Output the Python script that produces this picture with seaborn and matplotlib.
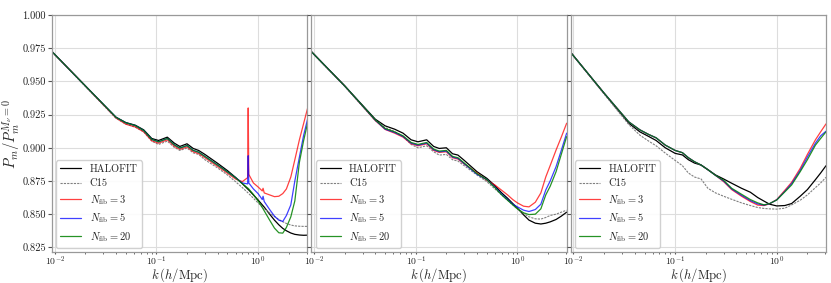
import numpy as np
import pandas as pd
import matplotlib
matplotlib.use("Agg")
import matplotlib.pyplot as plt
import seaborn as sns

# ---- data (k in h/Mpc, ratio P_m / P_m^{M_nu=0}) ----
k1 = [0.0094, 0.02, 0.04, 0.05, 0.062, 0.075, 0.09, 0.105, 0.128, 0.15, 0.17, 0.2, 0.23, 0.26,
      0.3, 0.4, 0.5, 0.6, 0.7, 0.79, 0.80, 0.81, 0.9, 1.0, 1.1, 1.12, 1.15, 1.3, 1.45, 1.6, 1.75,
      1.9, 2.1, 2.3, 2.55, 2.8, 3.1]
halofit1 = [0.9724, 0.9466, 0.923, 0.919, 0.917, 0.9135, 0.907, 0.9055, 0.908, 0.9035, 0.901, 0.903,
            0.8995, 0.898, 0.895, 0.8883, 0.8828, 0.8777, 0.873, 0.869, 0.8686, 0.8682, 0.8645,
            0.8607, 0.857, 0.8563, 0.8553, 0.850, 0.8455, 0.842, 0.8393, 0.8375, 0.8358, 0.8348,
            0.8343, 0.8341, 0.8342]
c15_1 = [0.9722, 0.9462, 0.9222, 0.9178, 0.9155, 0.912, 0.905, 0.9025, 0.905, 0.9003, 0.898, 0.8998,
         0.8962, 0.895, 0.891, 0.8848, 0.8795, 0.8745, 0.870, 0.8663, 0.8659, 0.8655, 0.862, 0.8585,
         0.8555, 0.855, 0.8542, 0.851, 0.8482, 0.846, 0.8443, 0.843, 0.8418, 0.8412, 0.8409, 0.8408,
         0.8408]
n3_1 = [0.9724, 0.9466, 0.9225, 0.9178, 0.9157, 0.912, 0.9053, 0.9035, 0.906, 0.9012, 0.8988, 0.9007,
        0.897, 0.8957, 0.8925, 0.886, 0.8808, 0.8765, 0.8745, 0.8775, 0.930, 0.880, 0.8735, 0.8705,
        0.8675, 0.8695, 0.866, 0.8645, 0.8632, 0.8635, 0.8655, 0.869, 0.878, 0.891, 0.906, 0.918,
        0.931]
n5_1 = [0.9724, 0.9466, 0.923, 0.9188, 0.9167, 0.913, 0.9063, 0.9045, 0.907, 0.9022, 0.8998, 0.9017,
        0.898, 0.8967, 0.8935, 0.887, 0.8818, 0.8775, 0.8735, 0.8728, 0.894, 0.8735, 0.869, 0.8655,
        0.861, 0.8635, 0.8595, 0.8535, 0.8485, 0.8455, 0.8445, 0.849, 0.857, 0.875, 0.893, 0.909,
        0.923]
n20_1 = [0.9724, 0.9466, 0.923, 0.9188, 0.9167, 0.913, 0.9063, 0.9045, 0.907, 0.9022, 0.8998, 0.9017,
         0.898, 0.8967, 0.8935, 0.887, 0.8818, 0.8775, 0.873, 0.8697, 0.8694, 0.869, 0.8648, 0.860,
         0.855, 0.854, 0.8525, 0.8455, 0.8395, 0.836, 0.8357, 0.840, 0.848, 0.860, 0.889, 0.905,
         0.920]

k2 = [0.0094, 0.02, 0.04, 0.05, 0.062, 0.075, 0.09, 0.105, 0.128, 0.15, 0.17, 0.2, 0.23, 0.26, 0.3,
      0.4, 0.5, 0.6, 0.7, 0.8, 0.9, 1.0, 1.15, 1.3, 1.5, 1.7, 1.9, 2.1, 2.4, 2.7, 3.05]
halofit2 = [0.9724, 0.9466, 0.9215, 0.9165, 0.914, 0.911, 0.906, 0.9045, 0.906, 0.901, 0.8995, 0.900,
            0.8955, 0.8945, 0.8905, 0.882, 0.877, 0.8715, 0.866, 0.862, 0.858, 0.8545, 0.8495,
            0.8455, 0.8432, 0.8426, 0.8432, 0.8442, 0.846, 0.8485, 0.8515]
c15_2 = [0.9722, 0.9462, 0.9205, 0.9152, 0.9122, 0.9085, 0.9025, 0.900, 0.9015, 0.897, 0.8945, 0.895,
         0.891, 0.890, 0.8865, 0.8795, 0.8745, 0.869, 0.8645, 0.8605, 0.857, 0.854, 0.8505, 0.848,
         0.8465, 0.8463, 0.8475, 0.849, 0.850, 0.8515, 0.853]
n3_2 = [0.9724, 0.9466, 0.9205, 0.9138, 0.911, 0.908, 0.903, 0.9015, 0.903, 0.898, 0.8965, 0.897,
        0.8925, 0.8915, 0.8878, 0.881, 0.8755, 0.872, 0.868, 0.8645, 0.861, 0.8585, 0.856, 0.8555,
        0.859, 0.866, 0.878, 0.8866, 0.8983, 0.908, 0.9185]
n5_2 = [0.9724, 0.9466, 0.9208, 0.914, 0.9115, 0.9085, 0.9035, 0.902, 0.9035, 0.8985, 0.897, 0.8975,
        0.893, 0.892, 0.888, 0.880, 0.876, 0.8705, 0.865, 0.861, 0.8575, 0.8555, 0.853, 0.852,
        0.8535, 0.8575, 0.8682, 0.875, 0.8858, 0.898, 0.911]
n20_2 = [0.9724, 0.9466, 0.921, 0.9145, 0.912, 0.909, 0.904, 0.9025, 0.904, 0.899, 0.8975, 0.898,
         0.8935, 0.8925, 0.8885, 0.8805, 0.876, 0.870, 0.8645, 0.8605, 0.857, 0.854, 0.851, 0.8497,
         0.850, 0.854, 0.8645, 0.871, 0.882, 0.895, 0.9084]

k3 = [0.0094, 0.02, 0.035, 0.045, 0.055, 0.065, 0.08, 0.1, 0.118, 0.135, 0.155, 0.18, 0.21, 0.25,
      0.3, 0.36, 0.45, 0.55, 0.65, 0.75, 0.85, 1.0, 1.2, 1.4, 1.7, 2.0, 2.4, 2.7, 3.05]
halofit3 = [0.9718, 0.941, 0.9185, 0.912, 0.9085, 0.9055, 0.900, 0.8958, 0.8946, 0.891, 0.8885, 0.887,
            0.8835, 0.8795, 0.8765, 0.8733, 0.8695, 0.8665, 0.8625, 0.8598, 0.8575, 0.8562, 0.8565,
            0.858, 0.8635, 0.8685, 0.876, 0.881, 0.8865]
c15_3 = [0.9716, 0.9405, 0.9175, 0.9095, 0.905, 0.9015, 0.896, 0.8905, 0.8865, 0.881, 0.878, 0.8765,
         0.8695, 0.866, 0.8635, 0.8612, 0.8585, 0.8565, 0.855, 0.8543, 0.854, 0.8538, 0.8545, 0.857,
         0.8605, 0.8645, 0.870, 0.8735, 0.8778]
n3_3 = [0.9718, 0.9412, 0.9195, 0.9135, 0.910, 0.9075, 0.902, 0.898, 0.8963, 0.8925, 0.8895, 0.887,
        0.8835, 0.8792, 0.8745, 0.8685, 0.8635, 0.8595, 0.8568, 0.8565, 0.8578, 0.861, 0.868, 0.874,
        0.8845, 0.895, 0.906, 0.912, 0.918]
n5_3 = [0.9718, 0.9412, 0.9195, 0.9135, 0.910, 0.9075, 0.902, 0.898, 0.8963, 0.8925, 0.8895, 0.887,
        0.8835, 0.8792, 0.875, 0.869, 0.8642, 0.8602, 0.8577, 0.8568, 0.8579, 0.8608, 0.8672, 0.873,
        0.883, 0.893, 0.9035, 0.909, 0.9125]
n20_3 = [0.9718, 0.9412, 0.9195, 0.9135, 0.910, 0.9075, 0.902, 0.898, 0.8963, 0.8925, 0.8895, 0.887,
         0.8835, 0.8792, 0.8755, 0.8695, 0.865, 0.861, 0.8585, 0.857, 0.858, 0.8607, 0.8668, 0.872,
         0.882, 0.891, 0.902, 0.907, 0.912]

panels = [
    (k1, halofit1, c15_1, n3_1, n5_1, n20_1),
    (k2, halofit2, c15_2, n3_2, n5_2, n20_2),
    (k3, halofit3, c15_3, n3_3, n5_3, n20_3),
]
labels = ["HALOFIT", "C15", r"$N_{\rm fib}=3$", r"$N_{\rm fib}=5$", r"$N_{\rm fib}=20$"]
styles = [
    dict(color="black", lw=0.9),
    dict(color="grey", lw=0.8, ls=(0, (2, 1))),
    dict(color="red", lw=0.9, alpha=0.75),
    dict(color="blue", lw=0.9, alpha=0.75),
    dict(color="green", lw=0.9, alpha=0.85),
]

sns.set_theme(style="whitegrid")
plt.rcParams.update({
    "font.family": "serif",
    "font.serif": ["cmr10", "DejaVu Serif"],
    "mathtext.fontset": "cm",
    "axes.formatter.use_mathtext": True,
    "axes.edgecolor": "#999999",
    "axes.linewidth": 0.9,
    "grid.color": "#dddddd",
    "grid.linewidth": 0.8,
    "xtick.bottom": True,
    "ytick.left": True,
    "xtick.color": "#555555",
    "ytick.color": "#555555",
    "xtick.labelcolor": "#222222",
    "ytick.labelcolor": "#222222",
})

fig, axes = plt.subplots(1, 3, figsize=(8.31, 2.83), dpi=100, sharey=True)
fig.subplots_adjust(left=0.0626, right=0.994, bottom=0.1095, top=0.947, wspace=0.016)

for ax, (k, *series) in zip(axes, panels):
    for vals, lab, st in zip(series, labels, styles):
        sns.lineplot(x=k, y=vals, ax=ax, label=lab, sort=False, estimator=None, **st)
    ax.set_xscale("log")
    ax.set_xlim(0.0094, 3.05)
    ax.set_ylim(0.8215, 1.0)
    ax.set_yticks(np.arange(0.825, 1.0001, 0.025))
    ax.yaxis.set_major_formatter(matplotlib.ticker.FormatStrFormatter("%.3f"))
    ax.tick_params(axis="y", which="major", length=3, width=0.8, labelsize=7.5, pad=1.5)
    ax.tick_params(axis="x", which="major", length=1.5, width=0.8, labelsize=7, pad=0)
    ax.tick_params(axis="x", which="minor", length=1.5, width=0.6, bottom=True)
    ax.grid(True, which="major")
    ax.grid(False, which="minor")
    ax.set_xlabel(r"$k\,(h/\mathrm{Mpc})$", fontsize=9.2, labelpad=-0.9)
    ax.legend(loc="lower left", fontsize=7.5, frameon=True, fancybox=True,
              edgecolor="#cccccc", framealpha=0.9, borderaxespad=0.4,
              handlelength=2.0, labelspacing=0.45)

axes[0].set_ylabel(r"$P_m/P_m^{M_\nu=0}$", fontsize=10.5, labelpad=0)
for ax in axes[1:]:
    ax.tick_params(axis="y", labelleft=False)

fig.savefig("out.png", dpi=100)
